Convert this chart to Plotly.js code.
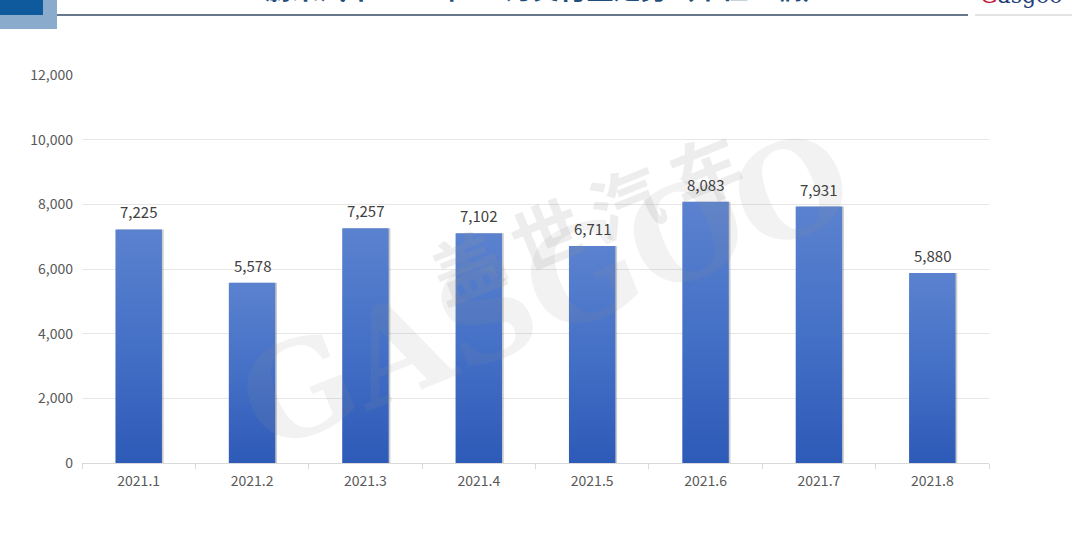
<!DOCTYPE html>
<html>
<head>
<meta charset="utf-8">
<script src="https://cdn.plot.ly/plotly-3.0.1.min.js"></script>
<style>
html,body{margin:0;padding:0;background:#fff;}
#chart{width:1080px;height:537px;}
</style>
</head>
<body>
<div id="chart"></div>
<script>
const months = ["2021.1","2021.2","2021.3","2021.4","2021.5","2021.6","2021.7","2021.8"];
const deliveries = [7225, 5578, 7257, 7102, 6711, 8083, 7931, 5880];
const yTicks = [0, 2000, 4000, 6000, 8000, 10000, 12000];
const titleText = "蔚来汽车2021年1-8月交付量走势（单位：辆）";

const FONT = "'Noto Sans CJK SC', 'Noto Sans', sans-serif";

const shadow = {
  type: "bar", x: months, y: deliveries,
  width: 0.41, offset: -0.19,
  marker: {color: "rgba(110,110,110,0.35)", line: {width: 0}},
  hoverinfo: "skip", showlegend: false
};
const bars = {
  type: "bar", x: months, y: deliveries,
  width: 0.41, offset: -0.205,
  marker: {color: "#4472C4", line: {width: 0}},
  showlegend: false
};

const valueLabels = months.map((m, i) => ({
  x: i, y: deliveries[i], xref: "x", yref: "y",
  text: deliveries[i].toLocaleString("en-US"),
  showarrow: false, xanchor: "center", yanchor: "bottom", yshift: 5,
  font: {family: FONT, size: 15, color: "#404040"}
}));

const layout = {
  width: 1080, height: 537,
  margin: {l: 82, r: 91, t: 75, b: 74},
  paper_bgcolor: "#ffffff", plot_bgcolor: "#ffffff",
  barmode: "overlay",
  font: {family: FONT, color: "#595959", size: 14},
  xaxis: {
    type: "category",
    categoryorder: "array", categoryarray: months,
    showgrid: false,
    showline: true, linecolor: "#d9d9d9", linewidth: 1,
    ticks: "outside", tickson: "boundaries", ticklen: 5, tickcolor: "#d9d9d9",
    ticklabelstandoff: 5,
    tickfont: {family: FONT, size: 14, color: "#595959"},
    fixedrange: true
  },
  yaxis: {
    range: [0, 12000],
    tickvals: yTicks,
    ticktext: yTicks.map(v => v.toLocaleString("en-US")),
    showgrid: true, gridcolor: "#e6e6e6", gridwidth: 1,
    zeroline: false, showline: false,
    ticks: "", ticklabelstandoff: 8,
    tickfont: {family: FONT, size: 14, color: "#595959"},
    fixedrange: true
  },
  shapes: [
    {type: "rect", xref: "paper", yref: "paper", x0: -82/907, x1: (57-82)/907, y0: (463-29)/388, y1: (463-0)/388, fillcolor: "#8aabcb", line: {width: 0}, layer: "above"},
    {type: "rect", xref: "paper", yref: "paper", x0: -82/907 - 0.01, x1: (43-82)/907, y0: (463-15)/388, y1: (463+2)/388, fillcolor: "#0f5a9c", line: {width: 0}, layer: "above"},
    {type: "line", xref: "paper", yref: "paper", x0: (57-82)/907, x1: (968-82)/907, y0: (463-15)/388, y1: (463-15)/388, line: {color: "#66788a", width: 2}},
    {type: "line", xref: "paper", yref: "paper", x0: (975-82)/907, x1: (1072-82)/907, y0: (463-15)/388, y1: (463-15)/388, line: {color: "#c8c8c8", width: 1}}
  ],
  annotations: [
    {text: "<b>" + titleText + "</b>", xref: "paper", yref: "paper", x: (547-82)/907, y: (463-9)/388,
     xanchor: "center", yanchor: "bottom", showarrow: false,
     font: {family: FONT, size: 27, color: "#1f4e79"}},
    {text: "<span style='color:#c8102e'>G</span>asgoo", xref: "paper", yref: "paper", x: (1022-82)/907, y: (463-10)/388,
     xanchor: "center", yanchor: "bottom", showarrow: false,
     font: {family: "DejaVu Serif, serif", size: 22, color: "#1f3f7a"}},
    {text: "<b>盖 世 汽 车</b>", xref: "paper", yref: "paper", x: (585-82)/907, y: (463-215)/388,
     xanchor: "center", yanchor: "middle", showarrow: false, textangle: -22,
     font: {family: FONT, size: 70, color: "rgba(150,150,150,0.17)"}},
    {text: "<b>GASGOO</b>", xref: "paper", yref: "paper", x: (545-82)/907, y: (463-290)/388,
     xanchor: "center", yanchor: "middle", showarrow: false, textangle: -22,
     font: {family: "DejaVu Serif, serif", size: 130, color: "rgba(150,150,150,0.12)"}}
  ].concat(valueLabels)
};

Plotly.newPlot("chart", [shadow, bars], layout, {displayModeBar: false, staticPlot: true}).then(function(gd){
  const svg = gd.querySelector("svg.main-svg");
  const ns = "http://www.w3.org/2000/svg";
  let defs = svg.querySelector("defs");
  if (!defs) { defs = document.createElementNS(ns, "defs"); svg.insertBefore(defs, svg.firstChild); }
  const g = document.createElementNS(ns, "linearGradient");
  g.setAttribute("id", "barGrad"); g.setAttribute("x1", "0"); g.setAttribute("y1", "0"); g.setAttribute("x2", "0"); g.setAttribute("y2", "1");
  [["0", "#5b82cf"], ["0.5", "#4470c6"], ["1", "#2e5ab8"]].forEach(function(s){
    const st = document.createElementNS(ns, "stop"); st.setAttribute("offset", s[0]); st.setAttribute("stop-color", s[1]); g.appendChild(st);
  });
  defs.appendChild(g);
  const traces = gd.querySelectorAll(".barlayer .trace");
  if (traces.length > 1) {
    traces[1].querySelectorAll(".point path").forEach(function(p){ p.style.fill = "url(#barGrad)"; });
  }
});
</script>
</body>
</html>
